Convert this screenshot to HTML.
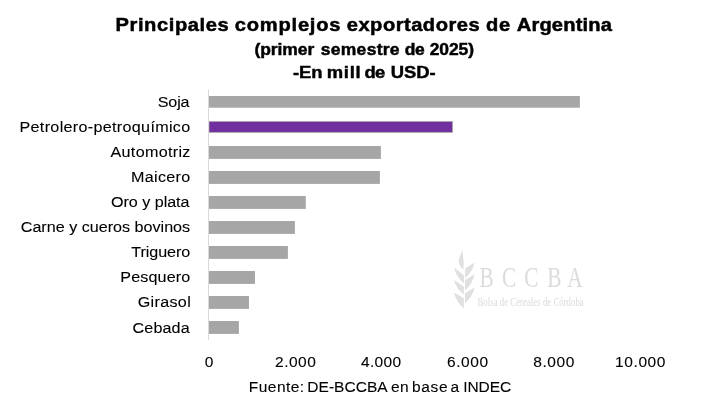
<!DOCTYPE html><html><head><title>Principales complejos exportadores de Argentina</title><meta charset="utf-8"><style>html,body{margin:0;padding:0;background:#fff}svg{display:block;will-change:transform}</style></head><body><svg width="719" height="406" viewBox="0 0 719 406">
<rect x="0" y="0" width="719" height="406" fill="#ffffff"/>
<g fill="#e0e0e0"><path d="M462.4 250.2 C460.6 254.5 458.3 259.5 458.7 262.6 C459.2 265.5 461.4 268 463.4 269.8 L463.7 262 Z"/><path d="M454.0 267.6 L463.9 275.3 L463.9 283.5 Q456.2 277.1 454.0 267.6Z"/><path d="M454.0 280.0 L463.9 286.6 L463.9 294.5 Q456.2 288.8 454.0 280.0Z"/><path d="M454.0 292.4 L463.9 298.2 L463.9 308.4 Q456.2 301.9 454.0 292.4Z"/><path d="M474.7 262.3 L465.0 268.8 L465.0 278.2 Q472.5 271.8 474.7 262.3Z"/><path d="M474.7 274.0 L465.0 280.2 L465.0 290.4 Q472.5 283.7 474.7 274.0Z"/><path d="M474.7 287.5 L465.0 293.3 L465.0 303.2 Q472.5 296.9 474.7 287.5Z"/></g>
<text transform="translate(477.50 305.70) scale(0.71 1)" font-family="'Liberation Serif', serif" font-size="12.3" font-weight="normal" letter-spacing="0.055" fill="#dadada" style="white-space:pre">Bolsa de Cereales de Córdoba</text>
<rect x="209" y="96.00" width="370.90" height="11.7" fill="#a6a6a6"/>
<rect x="209" y="121.55" width="243.50" height="10.8" fill="#7030a0" stroke="#a6a6a6" stroke-width="0.8"/>
<rect x="209" y="146.00" width="171.90" height="12.9" fill="#a6a6a6"/>
<rect x="209" y="171.00" width="170.90" height="12.9" fill="#a6a6a6"/>
<rect x="209" y="196.00" width="96.80" height="12.9" fill="#a6a6a6"/>
<rect x="209" y="221.00" width="85.90" height="12.9" fill="#a6a6a6"/>
<rect x="209" y="246.00" width="78.90" height="12.9" fill="#a6a6a6"/>
<rect x="209" y="271.00" width="46.00" height="12.9" fill="#a6a6a6"/>
<rect x="209" y="296.00" width="39.95" height="12.9" fill="#a6a6a6"/>
<rect x="209" y="321.00" width="29.90" height="12.9" fill="#a6a6a6"/>
<rect x="208" y="89.5" width="1" height="250.8" fill="#d9d9d9"/>
<text transform="translate(0 30.60) scale(1.06 1)" font-family="'Liberation Sans', sans-serif" font-size="19" font-weight="bold" fill="#000" stroke="#000" stroke-width="0.5" style="white-space:pre"><tspan x="108.96" letter-spacing="0.547">Principales </tspan><tspan x="221.46" letter-spacing="0.737">complejos </tspan><tspan x="327.12" letter-spacing="0.463">exportadores </tspan><tspan x="458.49" letter-spacing="0.613">de </tspan><tspan x="487.50" letter-spacing="0.142">Argentina</tspan></text>
<text transform="translate(0 54.50) scale(1.06 1)" font-family="'Liberation Sans', sans-serif" font-size="16.5" font-weight="bold" fill="#000" stroke="#000" stroke-width="0.45" style="white-space:pre"><tspan x="240.09" letter-spacing="-0.086">(primer </tspan><tspan x="302.59" letter-spacing="0.276">semestre </tspan><tspan x="381.84" letter-spacing="-0.425">de </tspan><tspan x="405.42" letter-spacing="-0.094">2025)</tspan></text>
<text transform="translate(0 78.00) scale(1.06 1)" font-family="'Liberation Sans', sans-serif" font-size="17.4" font-weight="bold" fill="#000" stroke="#000" stroke-width="0.45" style="white-space:pre"><tspan x="276.42" letter-spacing="-0.071">-En </tspan><tspan x="308.25" letter-spacing="0.708">mill </tspan><tspan x="343.87" letter-spacing="-0.613">de </tspan><tspan x="368.63" letter-spacing="-0.047">USD-</tspan></text>
<text transform="translate(0 391.60) scale(1.0 1)" font-family="'Liberation Sans', sans-serif" font-size="15.5" font-weight="normal" fill="#000" stroke="#000" stroke-width="0.1" style="white-space:pre"><tspan x="248.75" letter-spacing="0.475">Fuente: </tspan><tspan x="307.25" letter-spacing="0.050">DE-BCCBA </tspan><tspan x="391.00" letter-spacing="0.300">en </tspan><tspan x="412.00" letter-spacing="0.667">base </tspan><tspan x="450.40" letter-spacing="0.000">a </tspan><tspan x="463.25" letter-spacing="-0.088">INDEC</tspan></text>
<text transform="translate(0 286.90) scale(0.7 1)" font-family="'Liberation Serif', serif" font-size="30.5" font-weight="normal" fill="#dcdcdc" style="white-space:pre"><tspan x="685.18" letter-spacing="0.000">B</tspan><tspan x="717.21" letter-spacing="0.000">C</tspan><tspan x="749.00" letter-spacing="0.000">C</tspan><tspan x="781.79" letter-spacing="0.000">B</tspan><tspan x="810.21" letter-spacing="0.000">A</tspan></text>
<text transform="translate(157.75 106.90) scale(1.04 1)" font-family="'Liberation Sans', sans-serif" font-size="15.5" font-weight="normal" letter-spacing="-0.144" fill="#000" stroke="#000" stroke-width="0.1" style="white-space:pre">Soja</text>
<text transform="translate(19.50 131.70) scale(1.04 1)" font-family="'Liberation Sans', sans-serif" font-size="15.5" font-weight="normal" letter-spacing="0.316" fill="#000" stroke="#000" stroke-width="0.1" style="white-space:pre">Petrolero-petroquímico</text>
<text transform="translate(110.50 156.80) scale(1.04 1)" font-family="'Liberation Sans', sans-serif" font-size="15.5" font-weight="normal" letter-spacing="0.315" fill="#000" stroke="#000" stroke-width="0.1" style="white-space:pre">Automotriz</text>
<text transform="translate(131.00 182.00) scale(1.04 1)" font-family="'Liberation Sans', sans-serif" font-size="15.5" font-weight="normal" letter-spacing="0.304" fill="#000" stroke="#000" stroke-width="0.1" style="white-space:pre">Maicero</text>
<text transform="translate(111.00 206.80) scale(1.04 1)" font-family="'Liberation Sans', sans-serif" font-size="15.5" font-weight="normal" letter-spacing="-0.024" fill="#000" stroke="#000" stroke-width="0.1" style="white-space:pre">Oro y plata</text>
<text transform="translate(20.75 231.70) scale(1.04 1)" font-family="'Liberation Sans', sans-serif" font-size="15.5" font-weight="normal" letter-spacing="0.009" fill="#000" stroke="#000" stroke-width="0.1" style="white-space:pre">Carne y cueros bovinos</text>
<text transform="translate(131.25 256.60) scale(1.04 1)" font-family="'Liberation Sans', sans-serif" font-size="15.5" font-weight="normal" letter-spacing="-0.048" fill="#000" stroke="#000" stroke-width="0.1" style="white-space:pre">Triguero</text>
<text transform="translate(120.25 281.50) scale(1.04 1)" font-family="'Liberation Sans', sans-serif" font-size="15.5" font-weight="normal" letter-spacing="0.144" fill="#000" stroke="#000" stroke-width="0.1" style="white-space:pre">Pesquero</text>
<text transform="translate(137.75 307.00) scale(1.04 1)" font-family="'Liberation Sans', sans-serif" font-size="15.5" font-weight="normal" letter-spacing="0.312" fill="#000" stroke="#000" stroke-width="0.1" style="white-space:pre">Girasol</text>
<text transform="translate(132.50 332.80) scale(1.04 1)" font-family="'Liberation Sans', sans-serif" font-size="15.5" font-weight="normal" letter-spacing="0.144" fill="#000" stroke="#000" stroke-width="0.1" style="white-space:pre">Cebada</text>
<text transform="translate(204.85 366.80) scale(1.0 1)" font-family="'Liberation Sans', sans-serif" font-size="15.5" font-weight="normal" letter-spacing="0.000" fill="#000" stroke="#000" stroke-width="0.1" style="white-space:pre">0</text>
<text transform="translate(275.00 366.80) scale(1.0 1)" font-family="'Liberation Sans', sans-serif" font-size="15.5" font-weight="normal" letter-spacing="0.512" fill="#000" stroke="#000" stroke-width="0.1" style="white-space:pre">2.000</text>
<text transform="translate(361.00 366.80) scale(1.0 1)" font-family="'Liberation Sans', sans-serif" font-size="15.5" font-weight="normal" letter-spacing="0.337" fill="#000" stroke="#000" stroke-width="0.1" style="white-space:pre">4.000</text>
<text transform="translate(447.00 366.80) scale(1.0 1)" font-family="'Liberation Sans', sans-serif" font-size="15.5" font-weight="normal" letter-spacing="0.562" fill="#000" stroke="#000" stroke-width="0.1" style="white-space:pre">6.000</text>
<text transform="translate(533.25 366.80) scale(1.0 1)" font-family="'Liberation Sans', sans-serif" font-size="15.5" font-weight="normal" letter-spacing="0.562" fill="#000" stroke="#000" stroke-width="0.1" style="white-space:pre">8.000</text>
<text transform="translate(615.00 366.80) scale(1.0 1)" font-family="'Liberation Sans', sans-serif" font-size="15.5" font-weight="normal" letter-spacing="0.610" fill="#000" stroke="#000" stroke-width="0.1" style="white-space:pre">10.000</text>
</svg></body></html>
